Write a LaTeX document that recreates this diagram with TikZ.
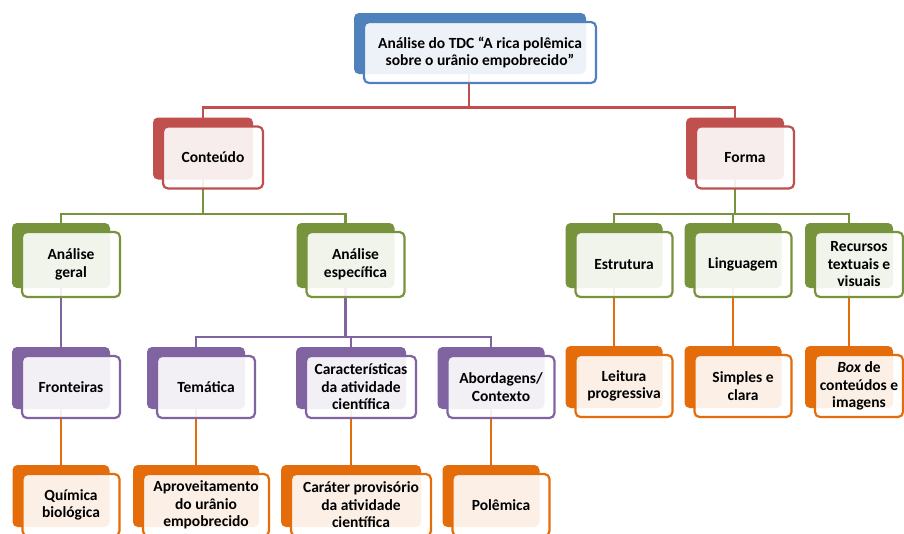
\documentclass[tikz,border=0pt]{standalone}
\usepackage{fontspec}
\setmainfont{Carlito}
\usepackage{tikz}
\usetikzlibrary{shadows,backgrounds}
\definecolor{cBlu}{RGB}{79,129,189}
\definecolor{cRed}{RGB}{192,80,77}
\definecolor{cGrn}{RGB}{119,147,60}
\definecolor{cPur}{RGB}{128,100,162}
\definecolor{cOrg}{RGB}{228,108,10}

\begin{document}
\begin{tikzpicture}[x=1pt, y=-1pt,
  card/.style={draw=#1, line width=2.2pt, rounded corners=5pt, fill=white, fill opacity=0.9,
    text opacity=1, align=center, inner sep=1pt, font=\fontsize{15.5}{17.5}\selectfont\bfseries,
    copy shadow={shadow xshift=-10pt, shadow yshift=9pt, fill=#1, draw=none, fill opacity=1}},
  link/.style={draw=#1, line width=2.5pt}
]
  \useasboundingbox (0,0) rectangle (904,533);
  \clip (0,0) rectangle (904,533);

  % topo
  \node[card=cBlu, minimum width=232pt, minimum height=61pt] (tdc) at (480,52.5)
    {Análise do TDC “A rica polêmica\\sobre o urânio empobrecido”};

  % conteudo / forma
  \node[card=cRed, minimum width=100pt, minimum height=62pt] (conteudo) at (213,157.5) {Conteúdo};
  \node[card=cRed, minimum width=98pt, minimum height=62pt] (forma) at (745,157.5) {Forma};

  % analises e aspectos da forma
  \node[card=cGrn, minimum width=98pt, minimum height=65pt] (geral) at (71,264.5) {Análise\\geral};
  \node[card=cGrn, minimum width=98pt, minimum height=65pt] (especifica) at (355.5,264.5) {Análise\\específica};
  \node[card=cGrn, minimum width=97pt, minimum height=65pt] (estrutura) at (624,264.5) {Estrutura};
  \node[card=cGrn, minimum width=97pt, minimum height=65pt] (linguagem) at (743,264.5) {Linguagem};
  \node[card=cGrn, minimum width=88pt, minimum height=65pt] (recursos) at (859,264.5) {Recursos\\textuais e\\visuais};

  % categorias
  \node[card=cPur, minimum width=98pt, minimum height=62pt] (fronteiras) at (71,387) {Fronteiras};
  \node[card=cPur, minimum width=98pt, minimum height=62pt] (tematica) at (206,387) {Temática};
  \node[card=cPur, minimum width=110pt, minimum height=62pt] (caracteristicas) at (361,387) {Características\\da atividade\\científica};
  \node[card=cPur, minimum width=107pt, minimum height=62pt] (abordagens) at (501,387) {Abordagens/\\Contexto};
  \node[card=cOrg, minimum width=97pt, minimum height=62pt] (leitura) at (624,386) {Leitura\\progressiva};
  \node[card=cOrg, minimum width=97pt, minimum height=62pt] (simples) at (743,386) {Simples e\\clara};
  \node[card=cOrg, minimum width=88pt, minimum height=62pt] (box) at (859,386) {\textit{Box} de\\conteúdos e\\imagens};

  % exemplos
  \node[card=cOrg, minimum width=97pt, minimum height=62pt] (quimica) at (71,505) {Química\\biológica};
  \node[card=cOrg, minimum width=126pt, minimum height=62pt] (aproveitamento) at (206,505) {Aproveitamento\\do urânio\\empobrecido};
  \node[card=cOrg, minimum width=140pt, minimum height=62pt] (carater) at (361,505) {Caráter provisório\\da atividade\\científica};
  \node[card=cOrg, minimum width=97pt, minimum height=62pt] (polemica) at (501,505) {Polêmica};

  \begin{scope}[on background layer]
    \fill[white] (0,0) rectangle (904,533);
    \draw[link=cRed] ([xshift=-11pt]tdc.center) -- ++(0,55) -| ([xshift=-10pt]conteudo.center);
    \draw[link=cRed] ([xshift=-11pt]tdc.center) -- ++(0,55) -| ([xshift=-10pt]forma.center);
    \draw[link=cGrn] ([xshift=-10pt]conteudo.center) -- ++(0,56.5) -| ([xshift=-10pt]geral.center);
    \draw[link=cGrn] ([xshift=-10pt]conteudo.center) -- ++(0,56.5) -| ([xshift=-10pt]especifica.center);
    \draw[link=cGrn] ([xshift=-10pt]forma.center) -- ++(0,56.5) -| ([xshift=-10pt]estrutura.center);
    \draw[link=cGrn] ([xshift=-10pt]forma.center) -- ++(0,56.5) -| ([xshift=-10pt]linguagem.center);
    \draw[link=cGrn] ([xshift=-10pt]forma.center) -- ++(0,56.5) -| ([xshift=-10pt]recursos.center);
    \draw[link=cPur] ([xshift=-10pt]geral.center) -- ([xshift=-10pt]fronteiras.center);
    \draw[link=cPur] ([xshift=-10pt]especifica.center) -- ++(0,72.5) -| ([xshift=-10pt]tematica.center);
    \draw[link=cPur] ([xshift=-10pt]especifica.center) -- ++(0,72.5) -| ([xshift=-10pt]caracteristicas.center);
    \draw[link=cPur] ([xshift=-10pt]especifica.center) -- ++(0,72.5) -| ([xshift=-10pt]abordagens.center);
    \draw[link=cOrg] ([xshift=-10pt]estrutura.center) -- ([xshift=-10pt]leitura.center);
    \draw[link=cOrg] ([xshift=-10pt]linguagem.center) -- ([xshift=-10pt]simples.center);
    \draw[link=cOrg] ([xshift=-10pt]recursos.center) -- ([xshift=-10pt]box.center);
    \draw[link=cOrg] ([xshift=-10pt]fronteiras.center) -- ([xshift=-10pt]quimica.center);
    \draw[link=cOrg] ([xshift=-10pt]tematica.center) -- ([xshift=-10pt]aproveitamento.center);
    \draw[link=cOrg] ([xshift=-10pt]caracteristicas.center) -- ([xshift=-10pt]carater.center);
    \draw[link=cOrg] ([xshift=-10pt]abordagens.center) -- ([xshift=-10pt]polemica.center);
  \end{scope}
\end{tikzpicture}
\end{document}
